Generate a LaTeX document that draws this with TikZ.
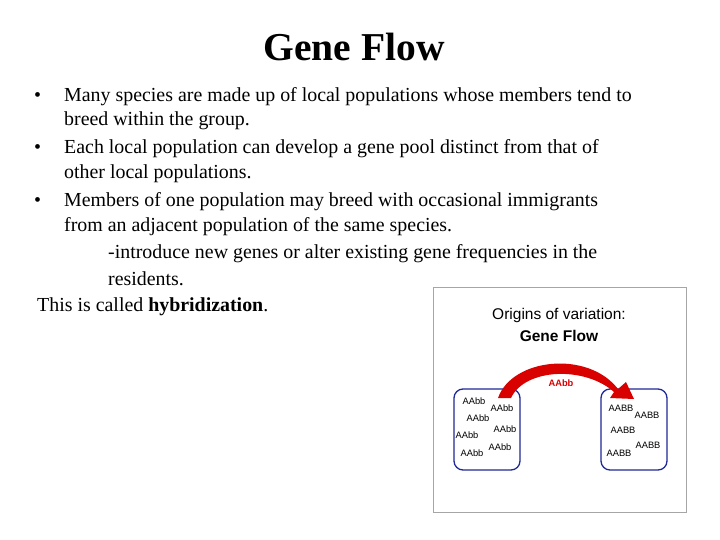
\documentclass[tikz,border=0pt]{standalone}
\usepackage{fontspec}
\setmainfont{Liberation Serif}
\newfontfamily\arial{Liberation Sans}
\begin{document}
\begin{tikzpicture}[x=1pt,y=-1pt,
  body/.style={anchor=west,font=\fontsize{19.9}{22}\selectfont,inner sep=0},
  gene/.style={font=\arial\fontsize{9.3}{10}\selectfont,inner sep=0},
  pop/.style={draw={rgb,255:red,30;green,40;blue,150},line width=1.3pt,rounded corners=9pt}]
\useasboundingbox (0,0) rectangle (720,540);
\node (title) at (354,47) {\fontsize{39.5}{44}\selectfont\bfseries Gene Flow};
\foreach \y in {97,149,202}{\node[body] at (34,\y) {•};}
\node[body] (l1) at (64,97) {Many species are made up of local populations whose members tend to};
\node[body] (l2) at (64,121) {breed within the group.};
\node[body] (l3) at (64,149) {Each local population can develop a gene pool distinct from that of};
\node[body] (l4) at (64,174) {other local populations.};
\node[body] (l5) at (64,202) {Members of one population may breed with occasional immigrants};
\node[body] (l6) at (64,227) {from an adjacent population of the same species.};
\node[body] (l7) at (108,254) {-introduce new genes or alter existing gene frequencies in the};
\node[body] (l8) at (108,279) {residents.};
\node[body] (l9) at (37,307) {This is called \textbf{hybridization}.};
\node[draw=gray!70,line width=0.8pt,minimum width=253,minimum height=225,inner sep=0] (inset) at (559.5,399.5) {};
\node (it1) at (559,315) {\arial\fontsize{15.5}{17}\selectfont Origins of variation:};
\node (it2) at (559,336) {\arial\fontsize{15.5}{17}\selectfont\bfseries Gene Flow};
\node[pop,minimum width=66,minimum height=81] (left) at (487,429.5) {};
\node[pop,minimum width=66,minimum height=81] (right) at (634,429.5) {};
\fill[red!85!black] (498,398) .. controls (512,358) and (588,350) .. (618,389) -- (626,382) -- (634,399) -- (610,398) -- (614,392)
  .. controls (585,366) and (525,368) .. (511,398) -- cycle;
\node[text=red!85!black,font=\arial\bfseries\fontsize{9.3}{10}\selectfont] (mig) at (561,383) {AAbb};
\foreach \x/\y in {474/401,502/408,478/418,505/429,467/435,500/447,472/453}{\node[gene] at (\x,\y) {AAbb};}
\foreach \x/\y in {621/408,647/415,623/430,648/445,619/453}{\node[gene] at (\x,\y) {AABB};}
\end{tikzpicture}
\end{document}
